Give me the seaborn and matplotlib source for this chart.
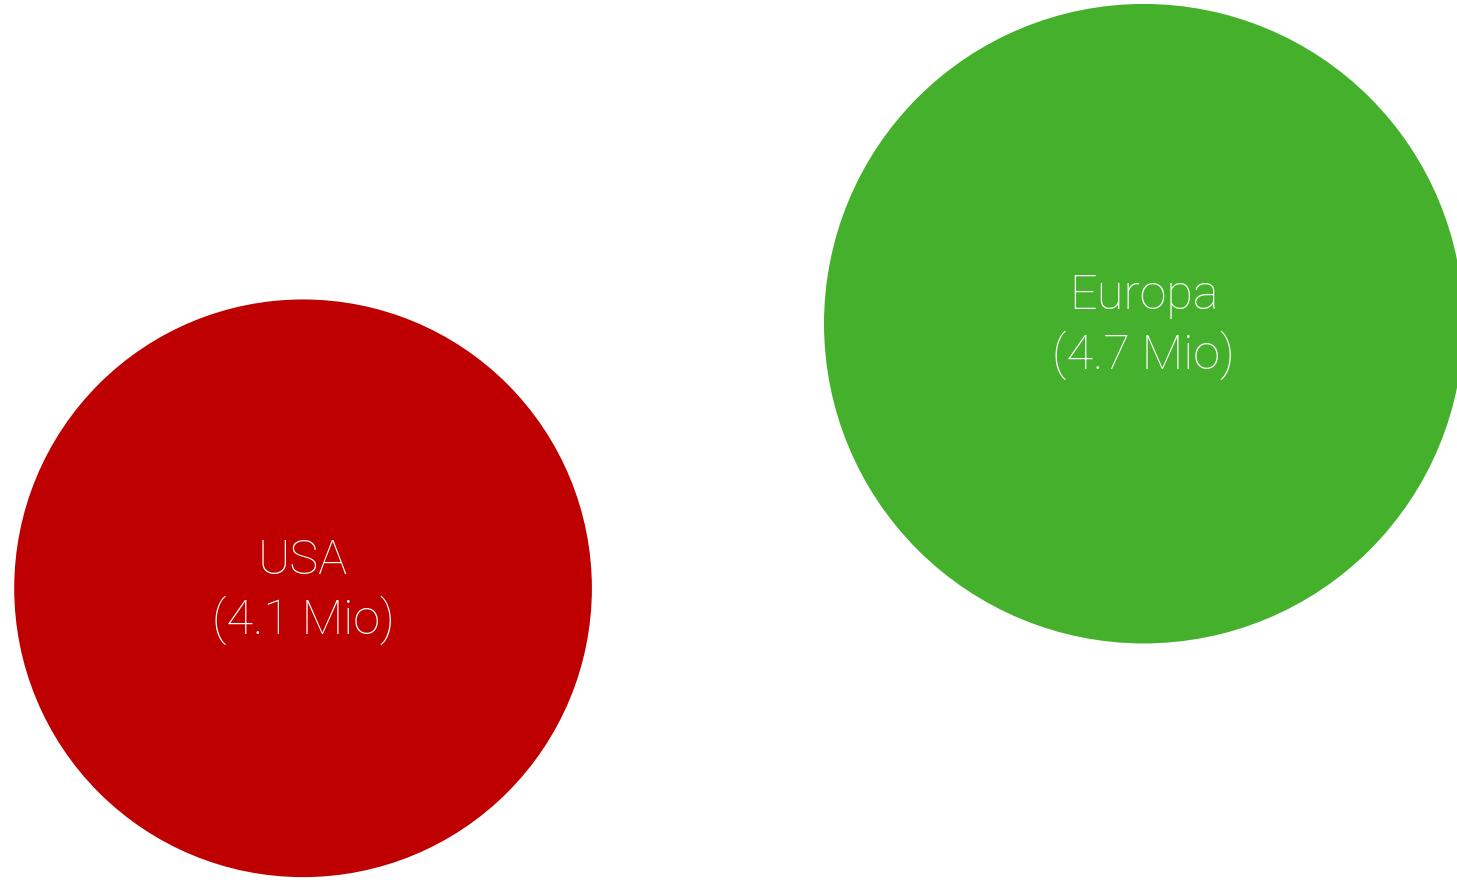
import pandas as pd
import matplotlib.pyplot as plt
import seaborn as sns

# bubble data (positions on a hidden 0-100 grid)
regions = ["USA", "Europa"]
values = [4.1, 4.7]
x_pos = [20.8, 78.5]
y_pos = [33.3, 63.3]
labels = ["USA\n(4.1 Mio)", "Europa\n(4.7 Mio)"]

df = pd.DataFrame({"region": regions, "value": values, "x": x_pos, "y": y_pos})

sns.set_style("white")
plt.rcParams['font.family'] = ['Roboto', 'DejaVu Sans']

fig = plt.figure(figsize=(14.57, 8.82), dpi=100)
ax = fig.add_axes([0, 0, 1, 1])

colors = {"USA": "#be0000", "Europa": "#44b02c"}
sizes = {"USA": 173000, "Europa": 212000}

sns.scatterplot(data=df, x="x", y="y", hue="region", palette=colors,
                size="region", sizes=sizes, linewidth=0, alpha=1,
                legend=False, ax=ax)

for i in range(len(df)):
    ax.text(df["x"][i], df["y"][i] - 0.3, labels[i], color="white", fontsize=35,
            fontweight="light", ha="center", va="center", linespacing=1.3)

ax.set_xlim(0, 100)
ax.set_ylim(0, 100)
ax.axis("off")

fig.savefig("out.png", dpi=100)
